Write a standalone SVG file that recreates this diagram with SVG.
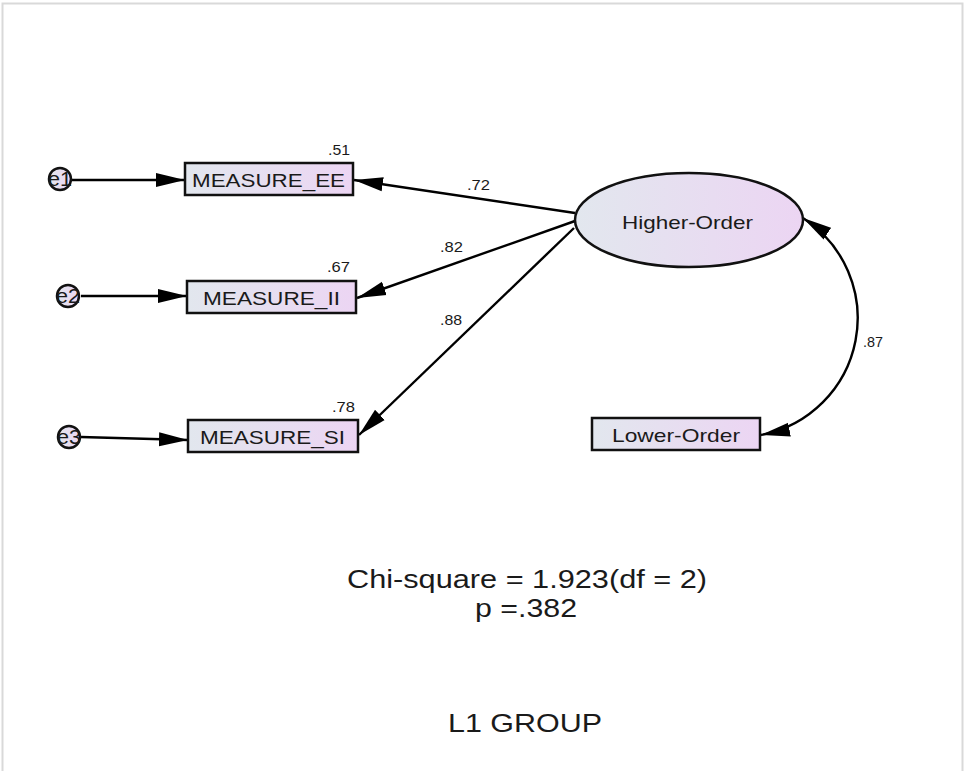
<svg xmlns="http://www.w3.org/2000/svg" width="964" height="771" viewBox="0 0 964 771">
  <defs>
    <linearGradient id="fill" x1="0" y1="0" x2="1" y2="0">
      <stop offset="0" stop-color="#e2e7ee"/>
      <stop offset="1" stop-color="#ecd5f3"/>
    </linearGradient>
    <marker id="ah" markerUnits="userSpaceOnUse" markerWidth="30" markerHeight="16" viewBox="0 0 30 16" refX="29" refY="8" orient="auto-start-reverse">
      <path d="M0,1 L29,8 L0,15 z" fill="#000"/>
    </marker>
    <style>
      .frame { stroke: #d9d9d9; stroke-width: 2; fill: none; }
      .box { fill: url(#fill); stroke: #111; stroke-width: 2.5; }
      .lbl { font-family: "Liberation Sans", Arial, sans-serif; fill: #1a1a1a; text-anchor: middle; }
      .node { font-size: 19px; }
      .num { font-size: 14.5px; }
      .err { font-size: 20px; }
      .note { font-size: 25.5px; }
      .path { stroke: #000; stroke-width: 2.4; fill: none; marker-end: url(#ah); }
      .cov { stroke: #000; stroke-width: 2.4; fill: none; marker-start: url(#ah); marker-end: url(#ah); }
    </style>
  </defs>

  <rect width="964" height="771" fill="#fff"/>
  <!-- page frame -->
  <path class="frame" d="M2.5,771 V3.5 H962.5 V771"/>

  <!-- connectors -->
  <g id="connectors">
    <line class="path" x1="72" y1="180" x2="185" y2="180"/>
    <line class="path" x1="81" y1="296" x2="187" y2="296"/>
    <line class="path" x1="81" y1="437" x2="188" y2="440"/>
    <line class="path" x1="575" y1="213" x2="354" y2="180"/>
    <line class="path" x1="575" y1="221" x2="357" y2="298"/>
    <line class="path" x1="574" y1="228" x2="359" y2="435"/>
    <path class="cov" d="M803,218 A119,119 0 0 1 761,435"/>
  </g>

  <!-- error terms -->
  <g id="e1">
    <circle class="box" cx="60" cy="179" r="11"/>
    <text class="lbl err" x="60" y="186" textLength="24" lengthAdjust="spacingAndGlyphs">e1</text>
  </g>
  <g id="e2">
    <circle class="box" cx="68" cy="296" r="11"/>
    <text class="lbl err" x="68" y="303" textLength="24" lengthAdjust="spacingAndGlyphs">e2</text>
  </g>
  <g id="e3">
    <circle class="box" cx="69" cy="437" r="11"/>
    <text class="lbl err" x="69" y="444" textLength="24" lengthAdjust="spacingAndGlyphs">e3</text>
  </g>

  <!-- observed measures -->
  <g id="measure-ee">
    <rect class="box" x="185" y="163" width="168" height="32"/>
    <text class="lbl node" x="268.5" y="187" textLength="153" lengthAdjust="spacingAndGlyphs">MEASURE_EE</text>
    <text class="lbl num" x="339" y="155" textLength="22" lengthAdjust="spacingAndGlyphs">.51</text>
  </g>
  <g id="measure-ii">
    <rect class="box" x="187" y="281" width="169" height="32"/>
    <text class="lbl node" x="271.5" y="305" textLength="137" lengthAdjust="spacingAndGlyphs">MEASURE_II</text>
    <text class="lbl num" x="338.5" y="272" textLength="23" lengthAdjust="spacingAndGlyphs">.67</text>
  </g>
  <g id="measure-si">
    <rect class="box" x="188" y="420" width="170" height="32"/>
    <text class="lbl node" x="272.5" y="444" textLength="145" lengthAdjust="spacingAndGlyphs">MEASURE_SI</text>
    <text class="lbl num" x="343.5" y="412" textLength="23" lengthAdjust="spacingAndGlyphs">.78</text>
  </g>

  <!-- latent factor -->
  <g id="higher-order">
    <ellipse class="box" cx="689" cy="220" rx="114" ry="47"/>
    <text class="lbl node" x="687.5" y="229" textLength="131" lengthAdjust="spacingAndGlyphs">Higher-Order</text>
  </g>
  <g id="lower-order">
    <rect class="box" x="592" y="418" width="168" height="32"/>
    <text class="lbl node" x="676" y="442" textLength="128" lengthAdjust="spacingAndGlyphs">Lower-Order</text>
  </g>

  <!-- path coefficients -->
  <g id="coefficients">
    <text class="lbl num" x="478.5" y="190" textLength="23" lengthAdjust="spacingAndGlyphs">.72</text>
    <text class="lbl num" x="451.5" y="252" textLength="23" lengthAdjust="spacingAndGlyphs">.82</text>
    <text class="lbl num" x="451" y="325" textLength="22" lengthAdjust="spacingAndGlyphs">.88</text>
    <text class="lbl num" x="873" y="347" textLength="20" lengthAdjust="spacingAndGlyphs">.87</text>
  </g>

  <!-- fit summary -->
  <g id="fit">
    <text class="lbl note" x="527" y="588" textLength="360" lengthAdjust="spacingAndGlyphs">Chi-square = 1.923(df = 2)</text>
    <text class="lbl note" x="526" y="617" textLength="102" lengthAdjust="spacingAndGlyphs">p =.382</text>
    <text class="lbl note" x="525" y="732" textLength="154" lengthAdjust="spacingAndGlyphs">L1 GROUP</text>
  </g>
</svg>
